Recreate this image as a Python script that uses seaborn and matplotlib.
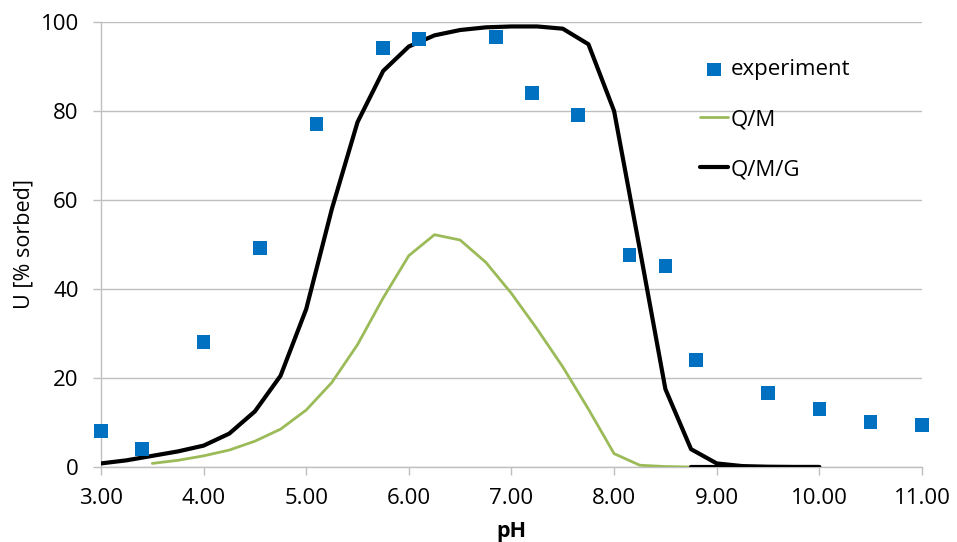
import numpy as np
import pandas as pd
import matplotlib
matplotlib.use("Agg")
import matplotlib.pyplot as plt
import seaborn as sns

# experiment data
exp_ph = [3.00, 3.40, 4.00, 4.55, 5.10, 5.75, 6.10, 6.85, 7.20, 7.65, 8.15, 8.50, 8.80, 9.50, 10.00, 10.50, 11.00]
exp_u = [8.1, 4.0, 28.1, 49.2, 77.1, 94.2, 96.2, 96.6, 84.0, 79.1, 47.6, 45.2, 24.0, 16.6, 13.0, 10.1, 9.4]

# Q/M model
qm_ph = [3.50, 3.75, 4.00, 4.25, 4.50, 4.75, 5.00, 5.25, 5.50, 5.75, 6.00, 6.25, 6.50, 6.75,
         7.00, 7.25, 7.50, 7.75, 8.00, 8.25, 8.50, 8.75]
qm_u = [0.8, 1.5, 2.5, 3.8, 5.8, 8.5, 12.8, 19.0, 27.5, 38.0, 47.5, 52.2, 51.0, 46.0,
        39.0, 31.0, 22.5, 13.0, 3.0, 0.4, 0.1, 0.0]

# Q/M/G model
qmg_ph = [3.00, 3.25, 3.50, 3.75, 4.00, 4.25, 4.50, 4.75, 5.00, 5.25, 5.50, 5.75, 6.00, 6.25,
          6.50, 6.75, 7.00, 7.25, 7.50, 7.75, 8.00, 8.25, 8.50, 8.75, 9.00, 9.25, 9.50, 9.75, 10.00]
qmg_u = [0.8, 1.5, 2.5, 3.5, 4.8, 7.5, 12.5, 20.5, 35.5, 58.0, 77.5, 89.0, 94.5, 97.0,
         98.2, 98.8, 99.0, 99.0, 98.5, 95.0, 80.0, 49.0, 17.5, 4.0, 0.8, 0.2, 0.05, 0.0, 0.0]

# unlabeled black baseline segment
tail_ph = [8.75, 9.00, 9.25, 9.50, 9.75, 10.00]
tail_u = [0.0, 0.0, 0.0, 0.0, 0.0, 0.0]

x_ticks = [3, 4, 5, 6, 7, 8, 9, 10, 11]
x_tick_labels = ["3.00", "4.00", "5.00", "6.00", "7.00", "8.00", "9.00", "10.00", "11.00"]
y_ticks = [0, 20, 40, 60, 80, 100]

sns.set_theme(style="white")
plt.rcParams["font.family"] = ["Open Sans", "DejaVu Sans"]
plt.rcParams["text.color"] = "black"
plt.rcParams["axes.labelcolor"] = "black"

fig = plt.figure(figsize=(9.57, 5.42), dpi=100)
ax = fig.add_axes([0.1055, 0.1384, 0.9634 - 0.1055, 0.9594 - 0.1384])

df_exp = pd.DataFrame({"pH": exp_ph, "U": exp_u})
df_qm = pd.DataFrame({"pH": qm_ph, "U": qm_u})
df_qmg = pd.DataFrame({"pH": qmg_ph, "U": qmg_u})
df_tail = pd.DataFrame({"pH": tail_ph, "U": tail_u})

sns.lineplot(data=df_qm, x="pH", y="U", ax=ax, color="#9BBB59", linewidth=2.0, label="Q/M", zorder=3)
sns.lineplot(data=df_tail, x="pH", y="U", ax=ax, color="black", linewidth=3.0, label="_nolegend_", zorder=4)
sns.lineplot(data=df_qmg, x="pH", y="U", ax=ax, color="black", linewidth=3.0, label="Q/M/G", zorder=4)
sns.scatterplot(data=df_exp, x="pH", y="U", ax=ax, color="#0070C0", marker="s", s=95,
                edgecolor="none", label="experiment", zorder=5, clip_on=False)

ax.set_xlim(3, 11)
ax.set_ylim(0, 100)
ax.set_xticks(x_ticks)
ax.set_xticklabels(x_tick_labels)
ax.set_yticks(y_ticks)
ax.yaxis.grid(True, color="#BFBFBF", linewidth=1.0)
ax.xaxis.grid(False)
ax.set_axisbelow(True)
for side in ["top", "right"]:
    ax.spines[side].set_visible(False)
for side in ["left", "bottom"]:
    ax.spines[side].set_color("#BFBFBF")
    ax.spines[side].set_linewidth(1.0)
ax.tick_params(axis="both", which="both", length=6, width=1.0, color="#BFBFBF",
               labelsize=16, labelcolor="black", direction="out", bottom=True, left=True)
ax.tick_params(axis="y", pad=10)
ax.tick_params(axis="x", pad=9)

ax.set_xlabel("pH", fontsize=15.5, fontweight="bold", labelpad=9, color="black")
ax.set_ylabel("U [% sorbed]", fontsize=15.5, labelpad=4.5, color="black")

handles, labels = ax.get_legend_handles_labels()
order = [labels.index("experiment"), labels.index("Q/M"), labels.index("Q/M/G")]
leg = ax.legend([handles[i] for i in order], [labels[i] for i in order],
                loc="upper left", bbox_to_anchor=(0.7296, 0.916), frameon=False,
                fontsize=16, labelspacing=1.3, handlelength=1.25, handletextpad=0.15,
                borderaxespad=0, borderpad=0)
for t in leg.get_texts():
    t.set_color("black")

fig.savefig("out.png", dpi=100)
